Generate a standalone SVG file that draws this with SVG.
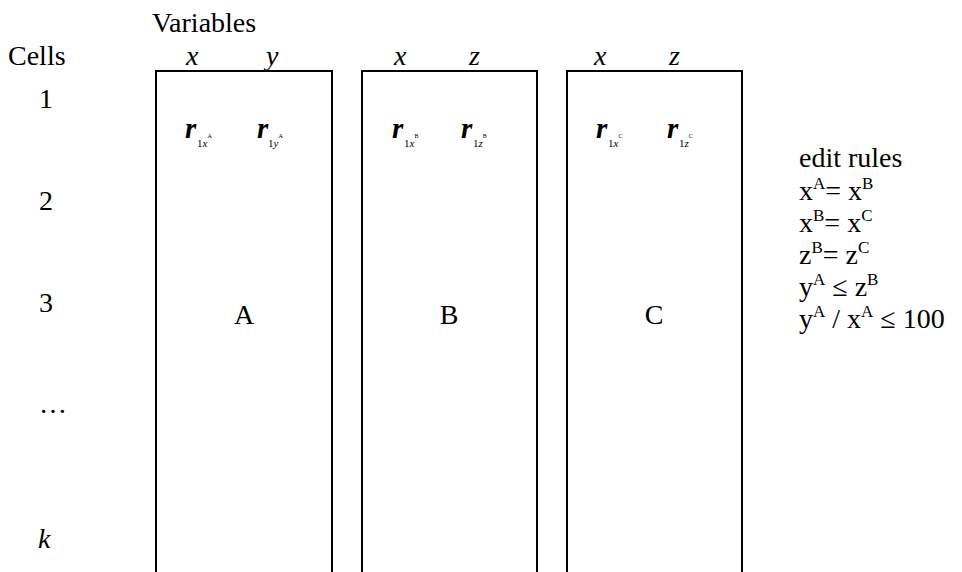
<svg xmlns="http://www.w3.org/2000/svg" width="962" height="572" viewBox="0 0 962 572">
<style>
text{font-family:"Liberation Serif",Tinos,"Times New Roman",Times,"Noto Serif","Nimbus Roman","FreeSerif","DejaVu Serif",serif;fill:#000;font-size:28px}
.i{font-style:italic}
.r{font-style:italic;font-weight:bold;font-size:29px}
.sb{font-size:11px}
.sp{font-size:6px}
.mid{text-anchor:middle}
.box{fill:none;stroke:#000;stroke-width:2}
.sup{font-size:17px}
</style>
<rect width="962" height="572" fill="#fff"/>
<g id="labels">
<text x="152" y="32">Variables</text>
<text x="8" y="65">Cells</text>
<text class="mid" x="46" y="108">1</text>
<text class="mid" x="46" y="210">2</text>
<text class="mid" x="46" y="312">3</text>
<text x="39" y="413">…</text>
<text class="i" x="38" y="548">k</text>
</g>
<g id="nodeA">
<path class="box" d="M156,572V71H332V572"/>
<text class="i" x="186" y="65">x</text>
<text class="i" x="266" y="65">y</text>
<text class="r" x="185" y="138">r</text>
<text class="sb" x="197" y="147">1<tspan class="i">x</tspan><tspan class="sp" dy="-9">A</tspan></text>
<text class="r" x="257" y="138">r</text>
<text class="sb" x="268" y="147">1<tspan class="i">y</tspan><tspan class="sp" dy="-9">A</tspan></text>
<text class="mid" x="244" y="324">A</text>
</g>
<g id="nodeB">
<path class="box" d="M362,572V71H537V572"/>
<text class="i" x="394" y="65">x</text>
<text class="i" x="469" y="65">z</text>
<text class="r" x="392" y="138">r</text>
<text class="sb" x="404" y="147">1<tspan class="i">x</tspan><tspan class="sp" dy="-9">B</tspan></text>
<text class="r" x="461" y="138">r</text>
<text class="sb" x="473" y="147">1<tspan class="i">z</tspan><tspan class="sp" dy="-9">B</tspan></text>
<text class="mid" x="449" y="324">B</text>
</g>
<g id="nodeC">
<path class="box" d="M567,572V71H742V572"/>
<text class="i" x="594" y="65">x</text>
<text class="i" x="669" y="65">z</text>
<text class="r" x="596" y="138">r</text>
<text class="sb" x="608" y="147">1<tspan class="i">x</tspan><tspan class="sp" dy="-9">C</tspan></text>
<text class="r" x="667" y="138">r</text>
<text class="sb" x="679" y="147">1<tspan class="i">z</tspan><tspan class="sp" dy="-9">C</tspan></text>
<text class="mid" x="654" y="324">C</text>
</g>
<g id="rules">
<text x="799" y="167">edit rules</text>
<text x="799" y="200">x<tspan class="sup" dy="-11">A</tspan><tspan dy="11">= x</tspan><tspan class="sup" dy="-11">B</tspan></text>
<text x="799" y="232">x<tspan class="sup" dy="-11">B</tspan><tspan dy="11">= x</tspan><tspan class="sup" dy="-11">C</tspan></text>
<text x="799" y="264">z<tspan class="sup" dy="-11">B</tspan><tspan dy="11">= z</tspan><tspan class="sup" dy="-11">C</tspan></text>
<text x="799" y="296">y<tspan class="sup" dy="-11">A</tspan><tspan dy="11"> ≤ z</tspan><tspan class="sup" dy="-11">B</tspan></text>
<text x="799" y="328">y<tspan class="sup" dy="-11">A</tspan><tspan dy="11"> / x</tspan><tspan class="sup" dy="-11">A</tspan><tspan dy="11"> ≤ 100</tspan></text>
</g>
<g id="connectors"></g>
</svg>
